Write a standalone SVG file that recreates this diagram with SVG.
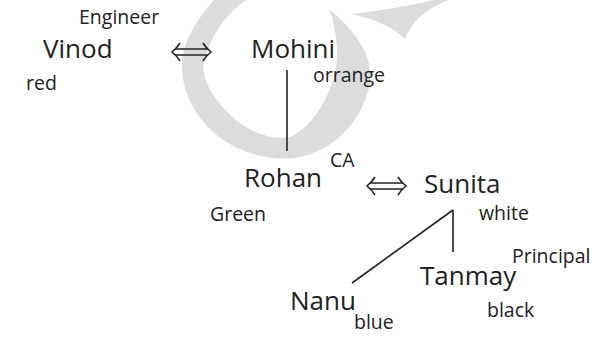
<svg xmlns="http://www.w3.org/2000/svg" width="607" height="339" viewBox="0 0 607 339">
<style>
.name{font-family:"Open Sans","Noto Sans",sans-serif;font-size:26px;fill:#222}
.lbl{font-family:"Open Sans","Noto Sans",sans-serif;font-size:19.5px;fill:#222}
.ln{stroke:#222;stroke-width:1.6;fill:none}
.wm{fill:#dcdcdc}
</style>
<defs>
<g id="dbl" class="ln">
<path d="M8,0 Q5,5 0,9 Q5,13 8,18"/>
<path d="M31,0 Q34,5 39,9 Q34,13 31,18"/>
<path d="M3,6 H36 M3,12 H36"/>
</g>
</defs>
<rect width="607" height="339" fill="#fff"/>
<g id="watermark">
<path class="wm" d="M214,0 C196,20 181,45 182,68 C183,105 210,140 250,153 C275,161 300,161 320,150 C345,138 362,115 369,88 C374,65 366,40 330,10 C337,35 340,60 333,80 C325,105 310,128 290,137 C265,142 235,125 217,100 C203,82 200,65 207,53 C212,35 225,15 246,0 Z"/>
<path class="wm" d="M352,14 Q395,9 434,0 L448,0 Q414,14 405,39 Q388,22 352,14 Z"/>
</g>
<g id="connectors">
<use href="#dbl" x="172" y="43"/>
<use href="#dbl" x="367" y="177"/>
<path class="ln" d="M287,70 V151"/>
<path class="ln" d="M453,210 L352,283"/>
<path class="ln" d="M453,210 V252"/>
</g>
<g id="vinod"><text class="lbl" x="79" y="24">Engineer</text><text class="name" x="43" y="58">Vinod</text><text class="lbl" x="26" y="90">red</text></g>
<g id="mohini"><text class="name" x="251" y="58">Mohini</text><text class="lbl" x="313" y="82">orrange</text></g>
<g id="rohan"><text class="lbl" x="330" y="167">CA</text><text class="name" x="244" y="187">Rohan</text><text class="lbl" x="210" y="221">Green</text></g>
<g id="sunita"><text class="name" x="424" y="193">Sunita</text><text class="lbl" x="479" y="220">white</text></g>
<g id="tanmay"><text class="lbl" x="512" y="263">Principal</text><text class="name" x="420" y="285">Tanmay</text><text class="lbl" x="487" y="317">black</text></g>
<g id="nanu"><text class="name" x="290" y="310">Nanu</text><text class="lbl" x="354" y="329">blue</text></g>
</svg>
